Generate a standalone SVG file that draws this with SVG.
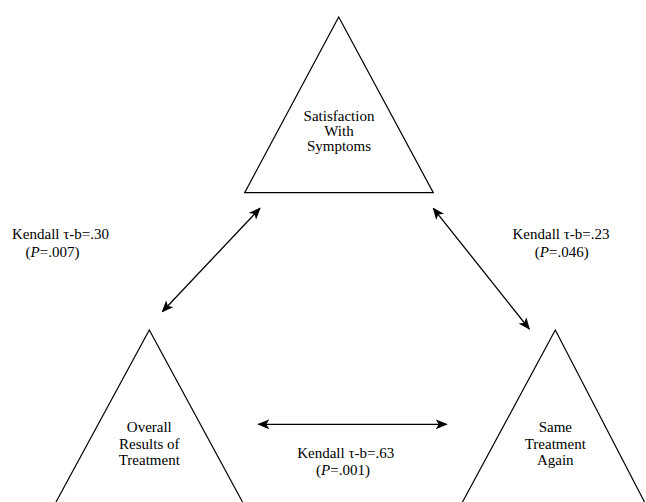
<svg xmlns="http://www.w3.org/2000/svg" width="646" height="502" viewBox="0 0 646 502">
<style>
.tri{fill:none;stroke:#000;stroke-width:1.2}
.t{font-family:"Liberation Serif","Times New Roman",serif;font-size:15px;fill:#000;text-anchor:middle}
.c{stroke:#000;stroke-width:1.3;fill:none;marker-start:url(#ah);marker-end:url(#ah)}
</style>
<defs>
<marker id="ah" viewBox="0 0 12 10" refX="11" refY="5" markerWidth="12" markerHeight="10" markerUnits="userSpaceOnUse" orient="auto-start-reverse">
<path d="M0,0 L12,5 L0,10 L3,5 Z" fill="#000"/>
</marker>
</defs>
<rect width="646" height="502" fill="#fff"/>
<g id="node-satisfaction">
<polygon class="tri" points="338.7,17 433.3,192.7 244.7,192.7"/>
<text class="t" x="339" y="120.5">Satisfaction</text>
<text class="t" x="339" y="135.5">With</text>
<text class="t" x="339" y="150.5">Symptoms</text>
</g>
<g id="node-overall">
<polyline class="tri" points="56,502 149.3,330 242.5,502"/>
<text class="t" x="149.3" y="431.7">Overall</text>
<text class="t" x="149.3" y="448.5">Results of</text>
<text class="t" x="149.3" y="465.3">Treatment</text>
</g>
<g id="node-same">
<polyline class="tri" points="462.5,502 555.3,330 644.5,502"/>
<text class="t" x="555.3" y="431.7">Same</text>
<text class="t" x="555.3" y="448.5">Treatment</text>
<text class="t" x="555.3" y="465.3">Again</text>
</g>
<g id="connectors">
<line class="c" x1="162.3" y1="311.7" x2="260" y2="208.3"/>
<line class="c" x1="433.3" y1="208.3" x2="529.3" y2="329"/>
<line class="c" x1="258.3" y1="424.3" x2="446.7" y2="424.3"/>
</g>
<g id="labels">
<text class="t" x="60.5" y="239.3">Kendall τ-b=.30</text>
<text class="t" x="52.5" y="257">(<tspan font-style="italic">P</tspan>=.007)</text>
<text class="t" x="561" y="239.3">Kendall τ-b=.23</text>
<text class="t" x="561.7" y="257">(<tspan font-style="italic">P</tspan>=.046)</text>
<text class="t" x="345.7" y="458.3">Kendall τ-b=.63</text>
<text class="t" x="343" y="475">(<tspan font-style="italic">P</tspan>=.001)</text>
</g>
</svg>
